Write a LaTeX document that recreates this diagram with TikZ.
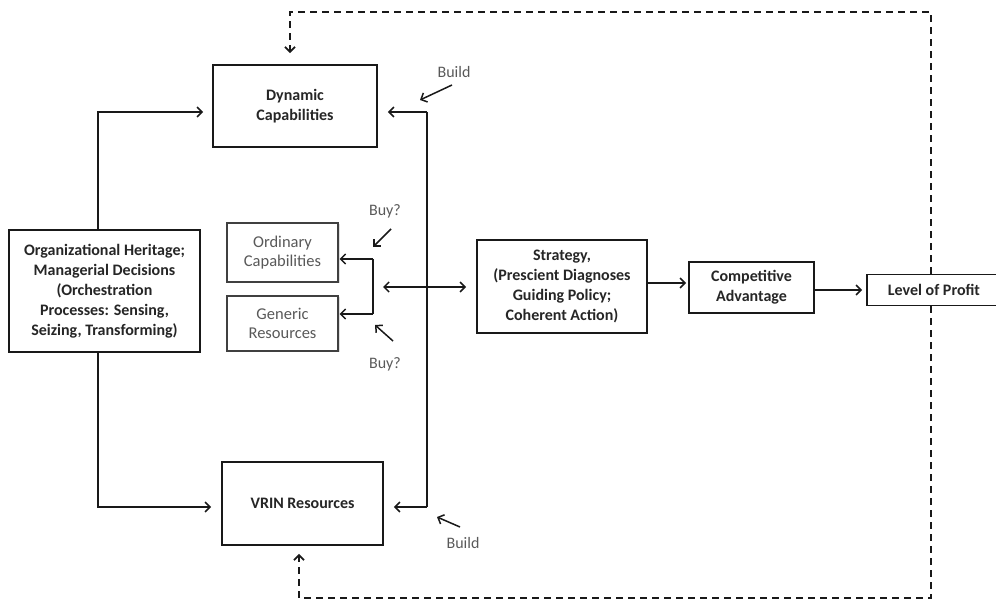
\documentclass[tikz,border=0pt]{standalone}
\usepackage{fontspec}
\setmainfont{Carlito}
\usetikzlibrary{arrows.meta,shadows,backgrounds}
\begin{document}
\begin{tikzpicture}[x=1pt,y=-1pt,
  box/.style={draw=black!90, line width=1.8pt, fill=white, align=center, inner sep=0pt,
    font=\bfseries\fontsize{16}{20}\selectfont, text=black!85},
  gbox/.style={draw=black!75, line width=1.1pt, fill=white, align=center, inner sep=0pt,
    font=\fontsize{16.5}{19.5}\selectfont, text=black!65,
    drop shadow={opacity=0.25, shadow xshift=1.5pt, shadow yshift=-1.5pt}},
  lbl/.style={font=\fontsize{16}{18}\selectfont, text=black!65, inner sep=0pt},
  conn/.style={line width=1.5pt, draw=black!90},
  arr/.style={conn, -{Straight Barb[length=5pt,width=10pt]}},
  darr/.style={conn, {Straight Barb[length=5pt,width=10pt]}-{Straight Barb[length=5pt,width=10pt]}},
  dsh/.style={line width=1.8pt, draw=black!90, dash pattern=on 7pt off 5pt},
]
\useasboundingbox (0,0) rectangle (996,601);

% boxes
\node[box, minimum width=191pt, minimum height=122pt] (org) at (104.5,291)
  {Organizational Heritage;\\Managerial Decisions\\(Orchestration\\Processes: Sensing,\\Seizing, Transforming)};
\node[box, minimum width=164pt, minimum height=82pt] (dc) at (295,106) {Dynamic\\Capabilities};
\node[gbox, minimum width=111pt, minimum height=59pt] (ord) at (282.5,252.5) {Ordinary\\Capabilities};
\node[gbox, minimum width=111pt, minimum height=55pt] (gen) at (282.5,323.5) {Generic\\Resources};
\node[box, minimum width=161pt, minimum height=83pt] (vrin) at (302.5,503.5) {VRIN Resources};
\node[box, minimum width=170pt, minimum height=93pt] (strat) at (562,286.5)
  {Strategy,\\(Prescient Diagnoses\\Guiding Policy;\\Coherent Action)};
\node[box, minimum width=125pt, minimum height=51pt] (comp) at (751.5,287.5) {Competitive\\Advantage};
\node[box, minimum width=134pt, minimum height=31pt] (lop) at (934,290) {Level of Profit};

% labels
\node[lbl] (build1) at (454,72) {Build};
\node[lbl] (buy1) at (385,211) {Buy?};
\node[lbl] (buy2) at (385,364) {Buy?};
\node[lbl] (build2) at (463,543) {Build};

% left connectors
\coordinate (lt) at (98,112);
\coordinate (lb) at (98,507);
\draw[arr, shorten >=9pt] (org.north -| lt) -- (lt) -- (lt -| dc.west);
\draw[arr, shorten >=10pt] (org.south -| lb) -- (lb) -- (lb -| vrin.west);

% right build line
\coordinate (rt) at (427,112);
\coordinate (rb) at (427,507);
\draw[conn] (rt) -- (rb);
\draw[arr, shorten >=10pt] (rt) -- (rt -| dc.east);
\draw[arr, shorten >=10pt] (rb) -- (rb -| vrin.east);

% bracket to ordinary / generic
\coordinate (bt) at (373,259);
\coordinate (bb) at (373,314);
\draw[conn] (bt) -- (bb);
\draw[arr, shorten >=1pt] (bt) -- (bt -| ord.east);
\draw[arr, shorten >=1pt] (bb) -- (bb -| gen.east);

% double arrow to strategy
\coordinate (da) at (383,287);
\draw[darr, shorten >=10pt] (da) -- (da -| strat.west);

% chain
\coordinate (sc) at (647,283);
\draw[arr, shorten >=2pt] (sc) -- (sc -| comp.west);
\draw[arr, shorten >=4pt] (comp.east |- lop.west) -- (lop.west);

% small label arrows
\coordinate (b1t) at (452,85);  \coordinate (b1h) at (420,100);
\coordinate (u1t) at (391,229); \coordinate (u1h) at (373,247);
\coordinate (u2t) at (393,341); \coordinate (u2h) at (375,325);
\coordinate (b2t) at (460,527); \coordinate (b2h) at (437,517);
\draw[arr] (b1t) -- (b1h);
\draw[arr] (u1t) -- (u1h);
\draw[arr] (u2t) -- (u2h);
\draw[arr] (b2t) -- (b2h);

% dashed feedback loop
\coordinate (d1) at (290,12);
\coordinate (d2) at (931,12);
\coordinate (d3) at (931,598);
\coordinate (d4) at (299,598);
\begin{scope}[on background layer]
\draw[dsh, -{Straight Barb[length=5pt,width=10pt]}, shorten >=11pt] (lop.north -| d2) -- (d2) -- (d1) -- (d1 |- dc.north);
\draw[dsh, -{Straight Barb[length=5pt,width=10pt]}, shorten >=8pt] (lop.south -| d3) -- (d3) -- (d4) -- (d4 |- vrin.south);
\end{scope}
\end{tikzpicture}
\end{document}
